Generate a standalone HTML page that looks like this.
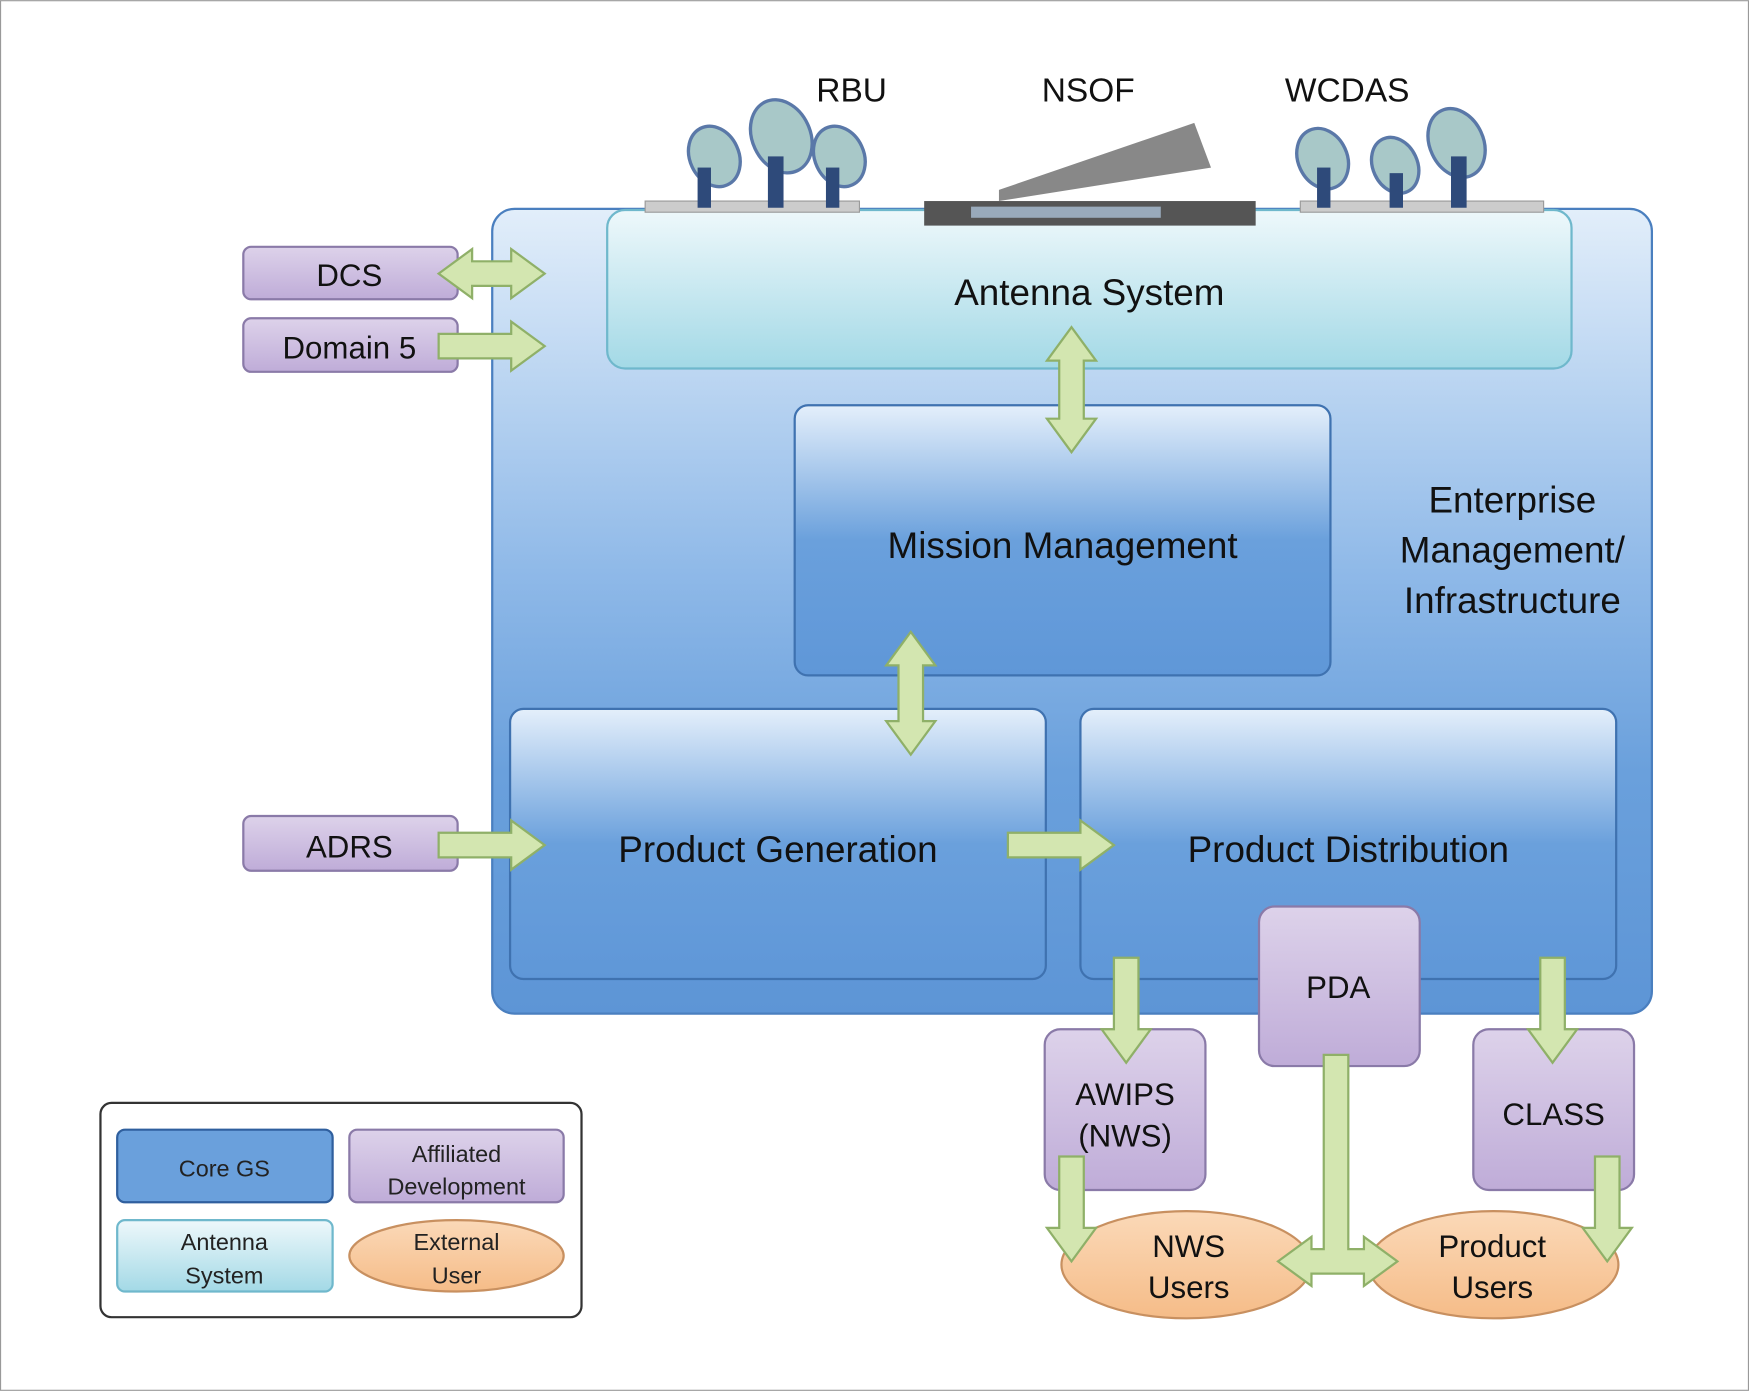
<!DOCTYPE html>
<html><head><meta charset="utf-8"><style>html,body{margin:0;padding:0;background:#fff}svg{display:block}</style></head>
<body>
<svg width="1749" height="1391" viewBox="0 0 1567 1246" xmlns="http://www.w3.org/2000/svg" font-family="Liberation Sans, sans-serif">
<defs>
<linearGradient id="blue" x1="0" y1="0" x2="0" y2="1"><stop offset="0" stop-color="#e2eefa"/><stop offset="0.45" stop-color="#8fb9e8"/><stop offset="0.7" stop-color="#6aa0dc"/><stop offset="1" stop-color="#5d95d6"/></linearGradient>
<linearGradient id="box" x1="0" y1="0" x2="0" y2="1"><stop offset="0" stop-color="#e4effb"/><stop offset="0.5" stop-color="#6aa0dc"/><stop offset="1" stop-color="#5f97d8"/></linearGradient>
<linearGradient id="cyan" x1="0" y1="0" x2="0" y2="1"><stop offset="0" stop-color="#eef8fb"/><stop offset="1" stop-color="#a3d9e6"/></linearGradient>
<linearGradient id="purp" x1="0" y1="0" x2="0" y2="1"><stop offset="0" stop-color="#ddd2ea"/><stop offset="1" stop-color="#bfacd8"/></linearGradient>
<linearGradient id="org" x1="0" y1="0" x2="0" y2="1"><stop offset="0" stop-color="#fbd9b8"/><stop offset="1" stop-color="#f5bc88"/></linearGradient>
</defs>
<rect x="0.5" y="0.5" width="1566" height="1245" fill="#fff" stroke="#999"/>
<rect x="441" y="187" width="1039" height="721" rx="20" fill="url(#blue)" stroke="#4a7fbf" stroke-width="2"/>
<rect x="544" y="188" width="864" height="142" rx="16" fill="url(#cyan)" stroke="#6fb8cc" stroke-width="2"/>
<rect x="712" y="363" width="480" height="242" rx="12" fill="url(#box)" stroke="#3f72b0" stroke-width="2"/>
<rect x="457" y="635" width="480" height="242" rx="12" fill="url(#box)" stroke="#3f72b0" stroke-width="2"/>
<rect x="968" y="635" width="480" height="242" rx="12" fill="url(#box)" stroke="#3f72b0" stroke-width="2"/>
<g fill="#a8c8c8" stroke="#5a78a8" stroke-width="3">
<rect x="578" y="180" width="192" height="10" fill="#ccc" stroke="#999" stroke-width="1"/>
<rect x="1165" y="180" width="218" height="10" fill="#ccc" stroke="#999" stroke-width="1"/>
<ellipse cx="640" cy="140" rx="22" ry="28" transform="rotate(-25 640 140)"/>
<ellipse cx="700" cy="122" rx="26" ry="34" transform="rotate(-25 700 122)"/>
<ellipse cx="752" cy="140" rx="22" ry="28" transform="rotate(-25 752 140)"/>
<ellipse cx="1185" cy="142" rx="22" ry="28" transform="rotate(-25 1185 142)"/>
<ellipse cx="1250" cy="148" rx="20" ry="26" transform="rotate(-25 1250 148)"/>
<ellipse cx="1305" cy="128" rx="24" ry="32" transform="rotate(-25 1305 128)"/>
</g>
<g fill="#2e4a7a"><rect x="625" y="150" width="12" height="36"/><rect x="688" y="140" width="14" height="46"/><rect x="740" y="150" width="12" height="36"/><rect x="1180" y="150" width="12" height="36"/><rect x="1245" y="155" width="12" height="31"/><rect x="1300" y="140" width="14" height="46"/></g>
<polygon points="895,170 1070,110 1085,150 895,180" fill="#888"/>
<rect x="828" y="180" width="297" height="22" fill="#555"/>
<rect x="870" y="185" width="170" height="10" fill="#9ab"/>
<g font-size="30" fill="#111" text-anchor="middle"><text x="763" y="91">RBU</text><text x="975" y="91">NSOF</text><text x="1207" y="91">WCDAS</text></g>
<g fill="url(#purp)" stroke="#8a7aa8" stroke-width="2">
<rect x="218" y="221" width="192" height="47" rx="7"/>
<rect x="218" y="285" width="192" height="48" rx="7"/>
<rect x="218" y="731" width="192" height="49" rx="7"/>
<rect x="1128" y="812" width="144" height="143" rx="14"/>
<rect x="936" y="922" width="144" height="144" rx="14"/>
<rect x="1320" y="922" width="144" height="144" rx="14"/>
</g>
<g fill="url(#org)" stroke="#c89060" stroke-width="2">
<ellipse cx="1063" cy="1133" rx="112" ry="48"/>
<ellipse cx="1338" cy="1133" rx="112" ry="48"/>
</g>
<g fill="#d3e6b0" stroke="#8fb068" stroke-width="2">
<polygon points="393,245 423,223 423,234 458,234 458,223 488,245 458,267 458,256 423,256 423,267"/>
<polygon points="393,299 458,299 458,288 488,310 458,332 458,321 393,321"/>
<polygon points="393,746 458,746 458,735 488,757 458,779 458,768 393,768"/>
<polygon points="903,746 968,746 968,735 998,757 968,779 968,768 903,768"/>
<polygon points="960,293 982,323 971,323 971,375 982,375 960,405 938,375 949,375 949,323 938,323"/>
<polygon points="816,566 838,596 827,596 827,646 838,646 816,676 794,646 805,646 805,596 794,596"/>
<polygon points="998,858 1020,858 1020,922 1031,922 1009,952 987,922 998,922"/>
<polygon points="1380,858 1402,858 1402,922 1413,922 1391,952 1369,922 1380,922"/>
<polygon points="949,1036 971,1036 971,1100 982,1100 960,1130 938,1100 949,1100"/>
<polygon points="1429,1036 1451,1036 1451,1100 1462,1100 1440,1130 1418,1100 1429,1100"/>
<polygon points="1145,1130 1175,1108 1175,1119 1186,1119 1186,945 1208,945 1208,1119 1222,1119 1222,1108 1252,1130 1222,1152 1222,1141 1175,1141 1175,1152"/>
</g>
<g fill="#111" text-anchor="middle" font-size="33">
<text x="976" y="273">Antenna System</text>
<text x="952" y="500">Mission Management</text>
<text x="697" y="772">Product Generation</text>
<text x="1208" y="772">Product Distribution</text>
<text x="1355" y="459">Enterprise</text>
<text x="1355" y="504">Management/</text>
<text x="1355" y="549">Infrastructure</text>
<g font-size="28">
<text x="313" y="256">DCS</text>
<text x="313" y="321">Domain 5</text>
<text x="313" y="768">ADRS</text>
<text x="1199" y="894">PDA</text>
<text x="1008" y="990">AWIPS</text>
<text x="1008" y="1027">(NWS)</text>
<text x="1392" y="1008">CLASS</text>
<text x="1065" y="1126">NWS</text>
<text x="1065" y="1163">Users</text>
<text x="1337" y="1126">Product</text>
<text x="1337" y="1163">Users</text>
</g>
</g>
<rect x="90" y="988" width="431" height="192" rx="10" fill="#fff" stroke="#333" stroke-width="2"/>
<rect x="105" y="1012" width="193" height="65" rx="7" fill="#6aa0dc" stroke="#2f5f9e" stroke-width="2"/>
<rect x="313" y="1012" width="192" height="65" rx="7" fill="url(#purp)" stroke="#8a7aa8" stroke-width="2"/>
<rect x="105" y="1093" width="193" height="64" rx="7" fill="url(#cyan)" stroke="#6fb8cc" stroke-width="2"/>
<ellipse cx="409" cy="1125" rx="96" ry="32" fill="url(#org)" stroke="#c89060" stroke-width="2"/>
<g fill="#222" text-anchor="middle" font-size="21">
<text x="201" y="1054">Core GS</text>
<text x="409" y="1041">Affiliated</text>
<text x="409" y="1070">Development</text>
<text x="201" y="1120">Antenna</text>
<text x="201" y="1150">System</text>
<text x="409" y="1120">External</text>
<text x="409" y="1150">User</text>
</g>
</svg>
</body></html>
